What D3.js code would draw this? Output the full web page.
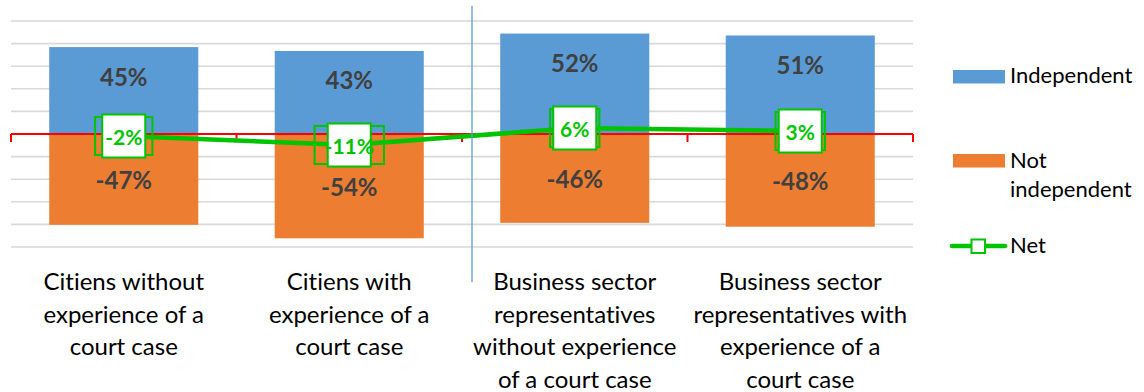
<!DOCTYPE html>
<html><head><meta charset="utf-8">
<script src="https://cdn.jsdelivr.net/npm/d3@7"></script>
<style>body{margin:0;background:#fff}svg{display:block}text{font-variant-ligatures:none}</style>
</head><body><svg id="c" width="1144" height="392"></svg>
<script>
const categories = [
  ["Citiens without","experience of a","court case"],
  ["Citiens with","experience of a","court case"],
  ["Business sector","representatives","without experience","of a court case"],
  ["Business sector","representatives with","experience of a","court case"]
];
const independent = [45, 43, 52, 51];
const notIndependent = [-47, -54, -46, -48];
const net = [-2, -11, 6, 3];
const seriesNames = ["Independent", "Not independent", "Net"];
const gridSteps = d3.range(-5, 6);

const BLUE = "#5B9BD5", ORANGE = "#ED7D31", GREEN = "#00C400", RED = "#FF0000";
const FONT = "Lato, 'Open Sans', sans-serif";

const svg = d3.select("#c");
const pL = 11, pR = 913, pT = 21, pB = 247;
const x = d3.scaleBand().domain(d3.range(categories.length)).range([pL, pR])
  .paddingInner(0.339).paddingOuter(0.1695);
const y = d3.scaleLinear().domain([-58.5, 58.5]).range([pB, pT]);
const y2 = d3.scaleLinear().domain([-113, 113]).range([pB, pT]);

// gridlines
svg.append("g").selectAll("line").data(gridSteps).join("line")
  .attr("x1", pL).attr("x2", pR)
  .attr("y1", d => y(d * 11.7)).attr("y2", d => y(d * 11.7))
  .attr("stroke", "#D9D9D9").attr("stroke-width", 1.6);

// bars
svg.append("g").selectAll("rect").data(independent).join("rect")
  .attr("x", (d, i) => x(i)).attr("width", x.bandwidth())
  .attr("y", d => y(d)).attr("height", d => y(0) - y(d)).attr("fill", BLUE);
svg.append("g").selectAll("rect").data(notIndependent).join("rect")
  .attr("x", (d, i) => x(i)).attr("width", x.bandwidth())
  .attr("y", y(0)).attr("height", d => y(d) - y(0)).attr("fill", ORANGE);

// zero axis with ticks
const z = y(0);
svg.append("line").attr("x1", pL).attr("x2", pR).attr("y1", z).attr("y2", z)
  .attr("stroke", RED).attr("stroke-width", 2);
const bounds = d3.range(categories.length + 1).map(i => pL + i * x.step());
svg.append("g").selectAll("line").data(bounds).join("line")
  .attr("x1", d => d).attr("x2", d => d).attr("y1", z).attr("y2", z + 8)
  .attr("stroke", RED).attr("stroke-width", 2);

// bar value labels
svg.append("g").selectAll("text").data(independent).join("text")
  .attr("x", (d, i) => x(i) + x.bandwidth() / 2).attr("y", d => y(d) + 29)
  .attr("text-anchor", "middle").attr("dominant-baseline", "central")
  .attr("font-family", FONT).attr("font-weight", "bold").attr("font-size", 24)
  .attr("fill", "#404040").text(d => d + "%");
svg.append("g").selectAll("text").data(notIndependent).join("text")
  .attr("x", (d, i) => x(i) + x.bandwidth() / 2).attr("y", d => (y(d) + y(0)) / 2)
  .attr("text-anchor", "middle").attr("dominant-baseline", "central")
  .attr("font-family", FONT).attr("font-weight", "bold").attr("font-size", 24)
  .attr("fill", "#404040").text(d => d + "%");

// net line
const cx = i => x(i) + x.bandwidth() / 2;
svg.append("path").datum(net)
  .attr("d", d3.line().x((d, i) => cx(i)).y(d => y2(d)))
  .attr("fill", "none").attr("stroke", GREEN).attr("stroke-width", 4.5)
  .attr("stroke-linejoin", "round");

// net labels: text measured, box around, marker
const ng = svg.append("g").selectAll("g").data(net).join("g")
  .attr("transform", (d, i) => `translate(${cx(i)},${y2(d)})`);
ng.append("text").attr("text-anchor", "middle").attr("dominant-baseline", "central")
  .attr("font-family", FONT).attr("font-weight", "bold").attr("font-size", 21)
  .attr("fill", GREEN).text(d => d + "%");
ng.each(function () {
  const g = d3.select(this);
  const w = g.select("text").node().getComputedTextLength() + 20;
  g.insert("rect", "text").attr("x", -w / 2).attr("y", -19).attr("width", w).attr("height", 38)
    .attr("fill", "none").attr("stroke", GREEN).attr("stroke-width", 2);
  g.insert("rect", "text").attr("x", -21.5).attr("y", -21.5).attr("width", 43).attr("height", 43)
    .attr("fill", "#fff").attr("stroke", GREEN).attr("stroke-width", 2);
});

// separator line
const sepX = pL + 2 * x.step() + 10;
svg.append("line").attr("x1", sepX).attr("x2", sepX).attr("y1", 6).attr("y2", 282)
  .attr("stroke", BLUE).attr("stroke-width", 1.3);

// category labels
const cl = svg.append("g").selectAll("text").data(categories).join("text")
  .attr("text-anchor", "middle").attr("font-family", FONT).attr("font-size", 24)
  .attr("fill", "#000");
cl.each(function (lines, i) {
  d3.select(this).selectAll("tspan").data(lines).join("tspan")
    .attr("x", cx(i)).attr("y", (d, j) => 290 + j * 32.5).text(d => d);
});

// legend
const lg = svg.append("g").attr("font-family", FONT).attr("font-size", 22).attr("fill", "#000");
lg.append("rect").attr("x", 953).attr("y", 70).attr("width", 52).attr("height", 13.5).attr("fill", BLUE);
lg.append("text").attr("x", 1010).attr("y", 83).text(seriesNames[0]);
lg.append("rect").attr("x", 953).attr("y", 154).attr("width", 52).attr("height", 13.5).attr("fill", ORANGE);
lg.append("text").attr("x", 1010).attr("y", 168).text("Not");
lg.append("text").attr("x", 1010).attr("y", 197).text("independent");
lg.append("line").attr("x1", 952).attr("x2", 1005).attr("y1", 246).attr("y2", 246)
  .attr("stroke", GREEN).attr("stroke-width", 4.5).attr("stroke-linecap", "round");
lg.append("rect").attr("x", 971.5).attr("y", 239.5).attr("width", 13.5).attr("height", 13.5)
  .attr("fill", "#fff").attr("stroke", GREEN).attr("stroke-width", 2);
lg.append("text").attr("x", 1010).attr("y", 253).text("Net");
</script></body></html>
